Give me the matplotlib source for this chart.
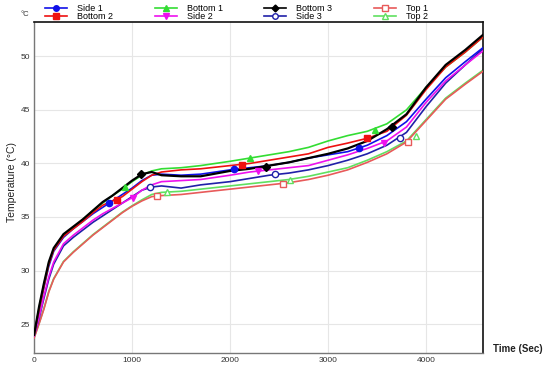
import numpy as np
import matplotlib
matplotlib.use("Agg")
import matplotlib.pyplot as plt

plt.rcParams['font.family'] = ['Liberation Sans', 'DejaVu Sans']

# time grid (s) shared by all probes
t = [0, 50, 100, 150, 200, 300, 400, 500, 600, 700, 800, 900, 1000, 1100, 1200, 1300,
     1500, 1700, 2000, 2200, 2400, 2600, 2800, 3000, 3200, 3400, 3600, 3800, 4000, 4200, 4400, 4580]

bottom3 = [24.0, 26.6, 28.8, 30.8, 32.1, 33.4, 34.1, 34.8, 35.6, 36.4, 37.0, 37.7, 38.4, 39.0, 39.2, 38.9,
           38.8, 38.8, 39.3, 39.5, 39.8, 40.1, 40.5, 40.9, 41.4, 42.1, 43.2, 44.6, 47.1, 49.2, 50.6, 52.0]
bottom2 = [24.0, 26.3, 28.5, 30.6, 31.9, 33.2, 33.9, 34.6, 35.4, 36.1, 36.5, 36.9, 37.6, 38.3, 38.9, 39.2,
           39.4, 39.5, 39.8, 40.0, 40.3, 40.6, 40.9, 41.5, 41.9, 42.35, 43.0, 44.5, 46.9, 49.0, 50.4, 51.8]
bottom1 = [24.0, 26.5, 28.7, 30.7, 32.0, 33.3, 34.0, 34.8, 35.6, 36.3, 37.0, 37.6, 38.3, 38.9, 39.3, 39.5,
           39.6, 39.8, 40.2, 40.5, 40.8, 41.1, 41.5, 42.1, 42.6, 43.0, 43.7, 45.0, 47.1, 49.0, 50.4, 51.8]
side1 = [24.0, 26.3, 28.4, 30.4, 31.8, 33.1, 33.9, 34.6, 35.3, 35.9, 36.5, 37.1, 37.7, 38.4, 38.9, 39.0,
         38.9, 39.0, 39.4, 39.6, 39.8, 40.1, 40.5, 40.8, 41.1, 41.7, 42.6, 43.9, 46.0, 48.0, 49.5, 50.8]
side2 = [23.9, 25.6, 27.6, 29.4, 30.8, 32.5, 33.3, 34.0, 34.7, 35.3, 35.8, 36.3, 36.8, 37.5, 38.0, 38.3,
         38.4, 38.5, 38.9, 39.2, 39.4, 39.6, 39.8, 40.3, 40.8, 41.4, 42.1, 43.4, 45.7, 47.7, 49.2, 50.5]
side3 = [23.9, 25.5, 27.4, 29.2, 30.6, 32.3, 33.1, 33.8, 34.5, 35.1, 35.7, 36.3, 36.9, 37.5, 37.8, 37.9,
         37.7, 38.0, 38.3, 38.6, 38.9, 39.1, 39.4, 39.8, 40.3, 40.9, 41.7, 42.9, 45.3, 47.5, 49.2, 50.7]
top1 = [23.7, 25.0, 26.4, 28.0, 29.2, 30.8, 31.7, 32.5, 33.3, 34.0, 34.7, 35.4, 36.0, 36.5, 36.9, 37.0,
        37.1, 37.3, 37.6, 37.8, 38.0, 38.2, 38.5, 38.9, 39.4, 40.1, 40.9, 42.0, 44.0, 46.0, 47.4, 48.6]
top2 = [23.75, 25.05, 26.45, 28.05, 29.25, 30.85, 31.75, 32.55, 33.35, 34.05, 34.75, 35.45, 36.05, 36.6, 37.1, 37.3,
        37.4, 37.6, 37.9, 38.1, 38.3, 38.5, 38.8, 39.2, 39.6, 40.3, 41.1, 42.1, 44.1, 46.1, 47.5, 48.7]

# marker positions (time, temperature)
mk_side1 = ([765, 2041, 3320], [36.3, 39.5, 41.4])
mk_bottom2 = ([850, 2125, 3401], [36.6, 39.9, 42.35])
mk_bottom1 = ([929, 2204, 3480], [37.8, 40.5, 43.1])
mk_side2 = ([1012, 2289, 3571], [36.8, 39.3, 41.9])
mk_bottom3 = ([1088, 2364, 3650], [39.0, 39.7, 43.4])
mk_side3 = ([1184, 2459, 3735], [37.8, 39.0, 42.4])
mk_top1 = ([1258, 2537, 3813], [37.0, 38.1, 42.0])
mk_top2 = ([1354, 2612, 3898], [37.3, 38.5, 42.6])

series = [
    ("Side 1", side1, mk_side1, "#1010e8", "o", True),
    ("Bottom 2", bottom2, mk_bottom2, "#ee1111", "s", True),
    ("Bottom 1", bottom1, mk_bottom1, "#33dd33", "^", True),
    ("Side 2", side2, mk_side2, "#ee10ee", "v", True),
    ("Bottom 3", bottom3, mk_bottom3, "#000000", "D", True),
    ("Side 3", side3, mk_side3, "#2020a8", "o", False),
    ("Top 1", top1, mk_top1, "#e85a5a", "s", False),
    ("Top 2", top2, mk_top2, "#60e060", "^", False),
]

fig = plt.figure(figsize=(5.5, 3.71), dpi=100)
ax = fig.add_axes([0.062, 0.0485, 0.816, 0.892])

draw_order = ["Top 2", "Top 1", "Side 3", "Side 2", "Side 1", "Bottom 1", "Bottom 2", "Bottom 3"]
handles = {}
for name, y, mk, col, m, filled in series:
    z = 2 + draw_order.index(name)
    lw = 1.6 if name == "Bottom 3" else 1.2
    ms = 4 if m == "D" else 4.5
    ax.plot(t, y, color=col, lw=lw, zorder=z)
    ax.plot(mk[0], mk[1], ls="none", marker=m, ms=ms,
            mfc=col if filled else "white", mec=col, mew=1, zorder=z + 10)
    handles[name] = plt.Line2D([], [], color=col, lw=1.2, marker=m, ms=ms - 0.5,
                               mfc=col if filled else "white", mec=col, mew=1)

ax.set_xlim(0, 4580)
ax.set_ylim(22.3, 53.2)
ax.set_xticks([0, 1000, 2000, 3000, 4000])
ax.set_yticks([25, 30, 35, 40, 45, 50])
ax.grid(True, color="#e6e6e6", lw=0.8)
ax.set_axisbelow(True)
ax.tick_params(length=0, labelsize=6, colors="#333333", pad=3)
for s in ["left", "bottom"]:
    ax.spines[s].set_color("#777777")
    ax.spines[s].set_linewidth(1.0)
for s in ["top", "right"]:
    ax.spines[s].set_color("#111111")
    ax.spines[s].set_linewidth(1.2)

fig.text(0.022, 0.51, "Temperature (°C)", rotation=90, ha="center", va="center",
         fontsize=7.5, color="#222222")
fig.text(0.896, 0.058, "Time (Sec)", ha="left", va="center", fontsize=7,
         color="#222222", fontweight="bold")
fig.text(0.045, 0.962, "°C", ha="center", va="center", fontsize=5.5, color="#333333")

order = ["Side 1", "Bottom 2", "Bottom 1", "Side 2", "Bottom 3", "Side 3", "Top 1", "Top 2"]
fig.legend([handles[n] for n in order], order, ncol=4, loc="upper left",
           bbox_to_anchor=(0.082, 0.99), frameon=False, fontsize=6.5,
           handlelength=2.45, columnspacing=4.6, labelspacing=-0.1, handletextpad=1.1,
           borderpad=0, borderaxespad=0)

fig.savefig("out.png", dpi=100)
